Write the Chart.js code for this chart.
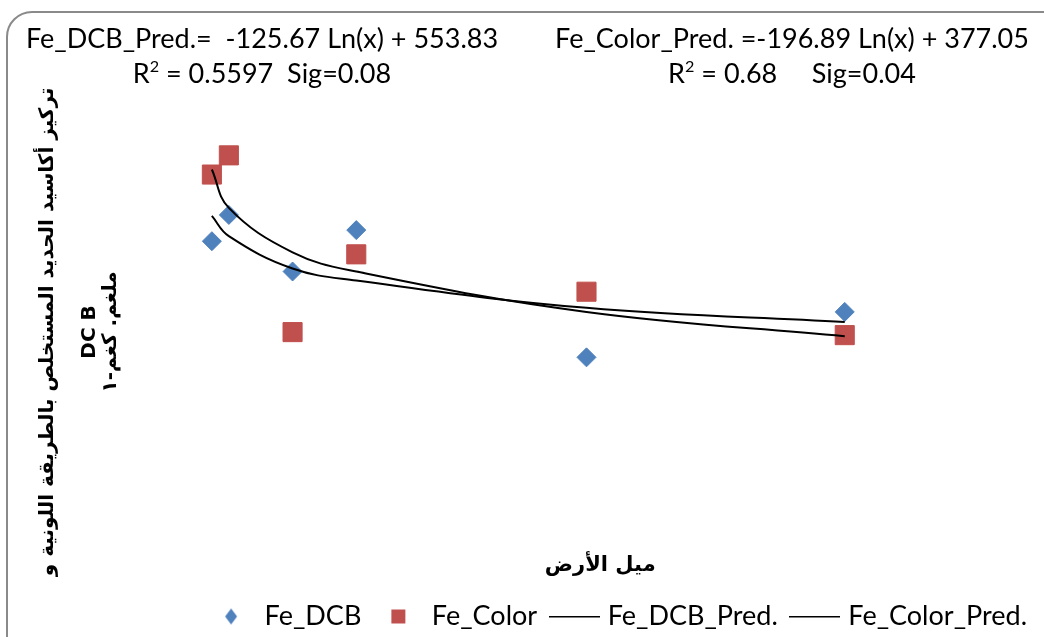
<!DOCTYPE html>
<html>
<head>
<meta charset="utf-8">
<script src="https://cdn.jsdelivr.net/npm/chart.js@4/dist/chart.umd.min.js"></script>
<style>
  body { margin: 0; background: #fff; }
  #wrap { position: relative; width: 1044px; height: 637px; overflow: hidden; }
  #frame { position: absolute; left: 6px; top: 11px; width: 1070px; height: 680px;
           border: 2px solid #8a8a8a; border-radius: 26px; box-sizing: border-box; }
  #myChart { position: absolute; left: 0; top: 0; }
  .eq { position: absolute; top: 20px; width: 540px; font-family: Lato, sans-serif;
        font-size: 27px; line-height: 35px; text-align: center; white-space: pre; color: #000; }
  .eq sup { font-size: 0.6em; line-height: 0; vertical-align: 0.7em; }
</style>
</head>
<body>
<div id="wrap">
  <div id="frame"></div>
  <canvas id="myChart" width="1044" height="640"></canvas>
  <div class="eq" style="left:-8px">Fe_DCB_Pred.=  -125.67 Ln(x) + 553.83<br>R<sup>2</sup> = 0.5597  Sig=0.08</div>
  <div class="eq" style="left:522px">Fe_Color_Pred. =-196.89 Ln(x) + 377.05<br>R<sup>2</sup> = 0.68     Sig=0.04</div>
</div>
<script>
// land slope (x) for the six sites
const slope = [0.5, 2.5, 10, 17.5, 44.6, 75];

// measured iron oxides
const feDCB   = [360, 386, 330, 371, 245, 290];
const feColor = [426, 445, 270, 347, 310, 267];

// predicted (log fit) values at the same slopes
const feDCBPred   = [385, 365, 333, 321, 294, 280];
const feColorPred = [431, 393, 349, 330, 290, 266];

const seriesNames = ['Fe_DCB', 'Fe_Color', 'Fe_DCB_Pred.', 'Fe_Color_Pred.'];

const yTitle = ['تركيز أكاسيد الحديد المستخلص بالطريقة اللونية و', '', 'DC B', 'ملغم. كغم-١'];
const xTitle = 'ميل الأرض';

function pts(ys) {
  return slope.map((x, i) => ({x: x, y: ys[i]}));
}

// little legend icons
function icon(kind) {
  const c = document.createElement('canvas');
  const g = c.getContext('2d');
  if (kind === 'line') {
    c.width = 51; c.height = 3;
    g.fillStyle = '#000';
    g.fillRect(0, 1, 51, 1.5);
  } else if (kind === 'diamond') {
    c.width = 16; c.height = 20;
    g.fillStyle = '#4F81BD';
    g.beginPath();
    g.moveTo(8, 2); g.lineTo(14, 10); g.lineTo(8, 18); g.lineTo(2, 10);
    g.closePath(); g.fill();
  } else {
    c.width = 18; c.height = 18;
    g.fillStyle = '#C0504D';
    g.fillRect(2, 2, 14, 14);
  }
  return c;
}
const legendIcons = [icon('diamond'), icon('square'), icon('line'), icon('line')];

const ctx = document.getElementById('myChart');

const chart = new Chart(ctx, {
  type: 'scatter',
  data: {
    datasets: [
      {
        label: seriesNames[0],
        data: pts(feDCB),
        pointStyle: 'rectRot',
        pointRadius: 9.5,
        backgroundColor: '#4F81BD',
        borderColor: '#4F81BD',
        borderWidth: 1,
        order: 1
      },
      {
        label: seriesNames[1],
        data: pts(feColor),
        pointStyle: 'rect',
        pointRadius: 13.5,
        backgroundColor: '#C0504D',
        borderColor: '#C0504D',
        borderWidth: 1,
        order: 1
      },
      {
        label: seriesNames[2],
        data: pts(feDCBPred),
        showLine: true,
        pointRadius: 0,
        borderColor: '#000',
        backgroundColor: '#000',
        borderWidth: 2,
        tension: 0.4,
        order: 0
      },
      {
        label: seriesNames[3],
        data: pts(feColorPred),
        showLine: true,
        pointRadius: 0,
        borderColor: '#000',
        backgroundColor: '#000',
        borderWidth: 2,
        tension: 0.4,
        order: 0
      }
    ]
  },
  options: {
    responsive: false,
    animation: false,
    layout: {
      padding: {top: 119, left: 33.5, right: 0, bottom: 0}
    },
    scales: {
      x: {
        type: 'linear',
        min: -4.31,
        max: 96.75,
        grid: {display: false},
        border: {display: false},
        ticks: {display: false},
        title: {
          display: true,
          text: xTitle,
          color: '#000',
          font: {family: 'DejaVu Sans', size: 21, weight: 'bold'},
          padding: {top: 0, bottom: 8}
        }
      },
      y: {
        min: 59.4,
        max: 481,
        grid: {display: false},
        border: {display: false},
        ticks: {display: false},
        title: {
          display: true,
          text: yTitle,
          color: '#000',
          font: {family: 'DejaVu Sans', size: 20, weight: 'bold', lineHeight: 1.05},
          padding: {top: 4, bottom: 41.5}
        }
      }
    },
    plugins: {
      tooltip: {enabled: false},
      legend: {
        position: 'bottom',
        align: 'end',
        labels: {
          color: '#000',
          font: {family: 'Lato', size: 27},
          usePointStyle: true,
          pointStyleWidth: 40,
          padding: 17,
          sort: (a, b) => a.datasetIndex - b.datasetIndex,
          generateLabels: (chart) => {
            const items = Chart.defaults.plugins.legend.labels.generateLabels(chart);
            items.forEach(it => { it.pointStyle = legendIcons[it.datasetIndex]; });
            return items;
          }
        }
      }
    }
  }
});
</script>
</body>
</html>
